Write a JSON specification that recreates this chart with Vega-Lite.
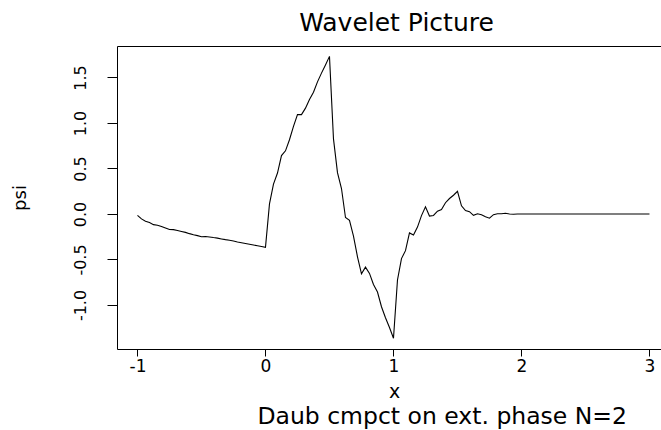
{
  "$schema": "https://vega.github.io/schema/vega-lite/v6.json",
  "width": 544,
  "height": 303,
  "autosize": {"type": "none"},
  "padding": {"left": 117, "top": 46, "right": 0, "bottom": 81},
  "title": {
    "text": "Wavelet Picture",
    "anchor": "middle",
    "frame": "group",
    "dx": 7.5,
    "dy": 25,
    "offset": 15,
    "baseline": "alphabetic",
    "fontSize": 25,
    "fontWeight": "normal",
    "font": "DejaVu Sans",
    "color": "black"
  },
  "data": {
    "values": [
      {"x": -1, "psi": -0.015},
      {"x": -0.96875, "psi": -0.054},
      {"x": -0.9375, "psi": -0.080},
      {"x": -0.90625, "psi": -0.094},
      {"x": -0.875, "psi": -0.117},
      {"x": -0.84375, "psi": -0.123},
      {"x": -0.8125, "psi": -0.138},
      {"x": -0.78125, "psi": -0.155},
      {"x": -0.75, "psi": -0.171},
      {"x": -0.71875, "psi": -0.172},
      {"x": -0.6875, "psi": -0.181},
      {"x": -0.65625, "psi": -0.192},
      {"x": -0.625, "psi": -0.202},
      {"x": -0.59375, "psi": -0.216},
      {"x": -0.5625, "psi": -0.228},
      {"x": -0.53125, "psi": -0.238},
      {"x": -0.5, "psi": -0.250},
      {"x": -0.46875, "psi": -0.247},
      {"x": -0.4375, "psi": -0.252},
      {"x": -0.40625, "psi": -0.259},
      {"x": -0.375, "psi": -0.265},
      {"x": -0.34375, "psi": -0.274},
      {"x": -0.3125, "psi": -0.282},
      {"x": -0.28125, "psi": -0.288},
      {"x": -0.25, "psi": -0.296},
      {"x": -0.21875, "psi": -0.307},
      {"x": -0.1875, "psi": -0.316},
      {"x": -0.15625, "psi": -0.324},
      {"x": -0.125, "psi": -0.333},
      {"x": -0.09375, "psi": -0.341},
      {"x": -0.0625, "psi": -0.349},
      {"x": -0.03125, "psi": -0.358},
      {"x": 0, "psi": -0.366},
      {"x": 0.03125, "psi": 0.111},
      {"x": 0.0625, "psi": 0.328},
      {"x": 0.09375, "psi": 0.450},
      {"x": 0.125, "psi": 0.642},
      {"x": 0.15625, "psi": 0.694},
      {"x": 0.1875, "psi": 0.816},
      {"x": 0.21875, "psi": 0.963},
      {"x": 0.25, "psi": 1.092},
      {"x": 0.28125, "psi": 1.092},
      {"x": 0.3125, "psi": 1.163},
      {"x": 0.34375, "psi": 1.259},
      {"x": 0.375, "psi": 1.337},
      {"x": 0.40625, "psi": 1.452},
      {"x": 0.4375, "psi": 1.548},
      {"x": 0.46875, "psi": 1.638},
      {"x": 0.5, "psi": 1.732},
      {"x": 0.53125, "psi": 0.825},
      {"x": 0.5625, "psi": 0.454},
      {"x": 0.59375, "psi": 0.280},
      {"x": 0.625, "psi": -0.038},
      {"x": 0.65625, "psi": -0.069},
      {"x": 0.6875, "psi": -0.243},
      {"x": 0.71875, "psi": -0.470},
      {"x": 0.75, "psi": -0.658},
      {"x": 0.78125, "psi": -0.584},
      {"x": 0.8125, "psi": -0.653},
      {"x": 0.84375, "psi": -0.775},
      {"x": 0.875, "psi": -0.858},
      {"x": 0.90625, "psi": -1.019},
      {"x": 0.9375, "psi": -1.140},
      {"x": 0.96875, "psi": -1.248},
      {"x": 1, "psi": -1.366},
      {"x": 1.03125, "psi": -0.725},
      {"x": 1.0625, "psi": -0.490},
      {"x": 1.09375, "psi": -0.403},
      {"x": 1.125, "psi": -0.208},
      {"x": 1.15625, "psi": -0.231},
      {"x": 1.1875, "psi": -0.144},
      {"x": 1.21875, "psi": -0.018},
      {"x": 1.25, "psi": 0.079},
      {"x": 1.28125, "psi": -0.023},
      {"x": 1.3125, "psi": -0.016},
      {"x": 1.34375, "psi": 0.031},
      {"x": 1.375, "psi": 0.048},
      {"x": 1.40625, "psi": 0.124},
      {"x": 1.4375, "psi": 0.170},
      {"x": 1.46875, "psi": 0.206},
      {"x": 1.5, "psi": 0.250},
      {"x": 1.53125, "psi": 0.090},
      {"x": 1.5625, "psi": 0.038},
      {"x": 1.59375, "psi": 0.026},
      {"x": 1.625, "psi": -0.015},
      {"x": 1.65625, "psi": 0.003},
      {"x": 1.6875, "psi": -0.009},
      {"x": 1.71875, "psi": -0.031},
      {"x": 1.75, "psi": -0.046},
      {"x": 1.78125, "psi": -0.007},
      {"x": 1.8125, "psi": 0.003},
      {"x": 1.84375, "psi": 0.002},
      {"x": 1.875, "psi": 0.008},
      {"x": 1.90625, "psi": 0.000},
      {"x": 1.9375, "psi": -0.002},
      {"x": 1.96875, "psi": 0.000},
      {"x": 2, "psi": 0},
      {"x": 3, "psi": 0}
    ]
  },
  "encoding": {
    "y": {
      "field": "psi",
      "type": "quantitative",
      "scale": {"domain": [-1.4835, 1.846], "nice": false, "zero": false},
      "axis": {
        "title": "psi",
        "values": [-1, -0.5, 0, 0.5, 1, 1.5],
        "labelExpr": "replace(format(datum.value, '.1f'), '\u2212', '-')",
        "labelAngle": -90,
        "labelAlign": "center",
        "labelBaseline": "alphabetic",
        "labelPadding": 22,
        "labelFontSize": 16,
        "labelOverlap": false,
        "tickSize": 10,
        "grid": false,
        "titleFontSize": 18,
        "titleFontWeight": "normal",
        "titleAngle": -90,
        "titleAlign": "center",
        "titleBaseline": "alphabetic",
        "titleX": -91.5,
        "titleY": 151.5
      }
    }
  },
  "layer": [
    {
      "mark": {"type": "line", "color": "black", "strokeWidth": 1.1},
      "encoding": {
        "x": {
          "field": "x",
          "type": "quantitative",
          "scale": {"domain": [-1.16, 3.09], "nice": false, "zero": false},
          "axis": {
            "title": "x",
            "values": [-1, 0, 1, 2, 3],
            "labelExpr": "replace(format(datum.value, 'd'), '\u2212', '-')",
            "labelFlush": false,
            "labelOverlap": false,
            "labelFontSize": 17,
            "labelBaseline": "top",
            "labelPadding": 2,
            "tickSize": 7,
            "grid": false,
            "titleFontSize": 19,
            "titleFontWeight": "normal",
            "titleAlign": "center",
            "titleBaseline": "alphabetic",
            "titleX": 277,
            "titleY": 48
          }
        }
      }
    },
    {
      "mark": {"type": "line", "opacity": 0},
      "encoding": {
        "x": {
          "field": "x",
          "type": "quantitative",
          "scale": {"domain": [-1.16, 3.09], "nice": false, "zero": false},
          "axis": {"orient": "top", "title": null, "labels": false, "ticks": false, "grid": false, "domain": true}
        }
      }
    },
    {
      "mark": {"type": "line", "opacity": 0},
      "encoding": {
        "x": {
          "field": "x",
          "type": "quantitative",
          "scale": {"domain": [-1.16, 3.09], "nice": false, "zero": false},
          "axis": {
            "orient": "bottom",
            "title": "Daub cmpct on ext. phase N=2",
            "labels": false,
            "ticks": false,
            "grid": false,
            "domain": false,
            "titleFontSize": 23.5,
            "titleFontWeight": "normal",
            "titleAlign": "center",
            "titleBaseline": "alphabetic",
            "titleX": 324.7,
            "titleY": 74.5
          }
        }
      }
    }
  ],
  "resolve": {"axis": {"x": "independent"}},
  "config": {
    "view": {"stroke": null},
    "font": "DejaVu Sans",
    "axis": {
      "domainColor": "black",
      "domainWidth": 1,
      "tickColor": "black",
      "tickWidth": 1,
      "labelColor": "black",
      "titleColor": "black",
      "labelFont": "DejaVu Sans",
      "titleFont": "DejaVu Sans"
    }
  }
}
